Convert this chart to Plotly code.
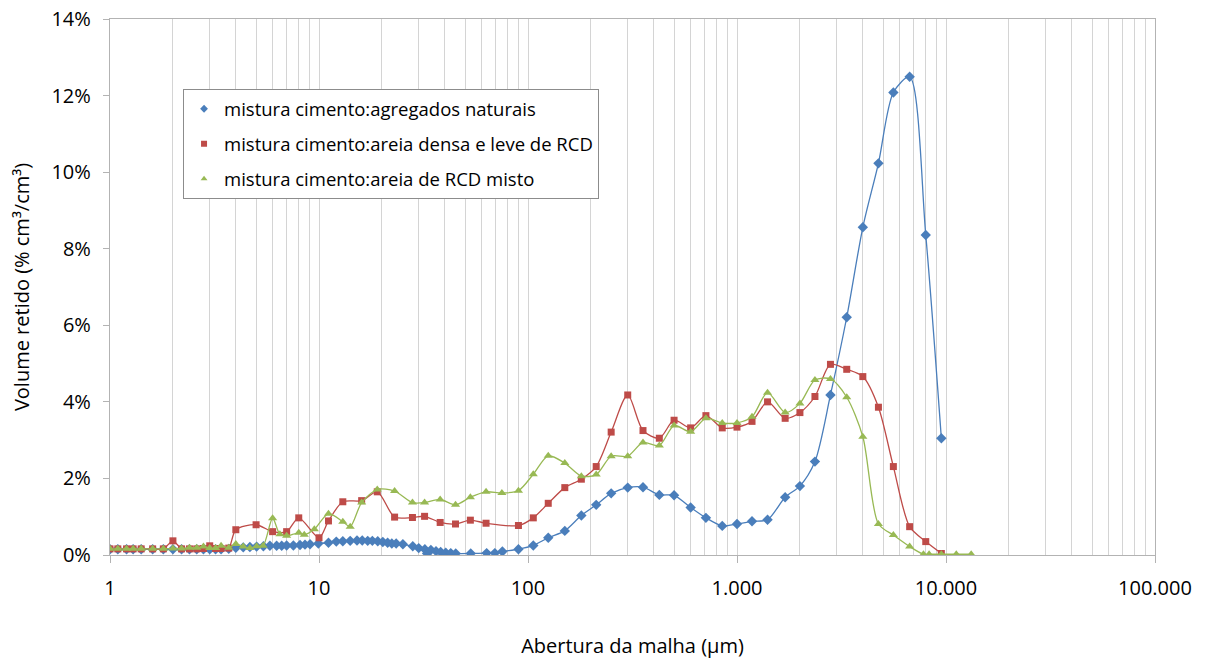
import plotly.graph_objects as go

# ---------------- data (µm, % cm3/cm3) ----------------
natural_x = [1, 1.09, 1.2, 1.29, 1.41, 1.6, 1.8, 2.0, 2.2, 2.4, 2.6, 2.8, 3.0, 3.2, 3.4, 3.7,
             4.0, 4.34, 4.67, 5.03, 5.42, 5.82, 6.27, 6.63, 7.0, 7.54, 8.11, 8.57, 9.06, 9.93,
             11.1, 12.1, 13.0, 14.1, 15.2, 16.1, 17.1, 18.0, 19.1, 20.2, 21.3, 22.3, 23.4, 25.2,
             28.1, 30.0, 32.1, 32.9, 34.3, 36.3, 38.2, 40.4, 42.7, 45.1, 53.2, 63.4, 69.4, 75.4,
             90, 106, 125, 150, 180, 212, 250, 300, 355, 425, 500, 600, 710, 850, 1000, 1180,
             1400, 1700, 2000, 2360, 2800, 3350, 4000, 4750, 5600, 6700, 8000, 9500]
natural_y = [0.15, 0.15, 0.15, 0.15, 0.15, 0.15, 0.15, 0.15, 0.15, 0.15, 0.15, 0.15, 0.15, 0.15, 0.15, 0.16,
             0.19, 0.20, 0.21, 0.22, 0.23, 0.24, 0.24, 0.24, 0.25, 0.25, 0.26, 0.27, 0.28, 0.30,
             0.32, 0.35, 0.36, 0.37, 0.38, 0.38, 0.37, 0.37, 0.36, 0.34, 0.32, 0.30, 0.30, 0.28,
             0.23, 0.18, 0.15, 0.04, 0.13, 0.10, 0.08, 0.06, 0.05, 0.04, 0.04, 0.05, 0.05, 0.09,
             0.15, 0.25, 0.45, 0.63, 1.03, 1.31, 1.61, 1.76, 1.77, 1.57, 1.56, 1.24, 0.97, 0.76, 0.81, 0.88,
             0.92, 1.51, 1.80, 2.44, 4.18, 6.21, 8.56, 10.23, 12.08, 12.49, 8.36, 3.05]

dense_x = [1, 1.09, 1.2, 1.29, 1.41, 1.6, 1.8, 2.0, 2.2, 2.4, 2.6, 2.8, 3.0, 3.2, 3.4, 3.7,
           4.0, 5.0, 6.0, 7.0, 8.0, 10.0, 11.1, 13.0, 16.0, 19.0, 23.0, 28.0, 32.0, 38.0, 45.0, 53.0, 63.0,
           90, 106, 125, 150, 180, 212, 250, 300, 355, 425, 500, 600, 710, 850, 1000, 1180,
           1400, 1700, 2000, 2360, 2800, 3350, 4000, 4750, 5600, 6700, 8000, 9500]
dense_y = [0.16, 0.16, 0.16, 0.16, 0.16, 0.16, 0.16, 0.37, 0.16, 0.16, 0.16, 0.17, 0.24, 0.17, 0.17, 0.18,
           0.66, 0.79, 0.61, 0.61, 0.97, 0.45, 0.89, 1.39, 1.42, 1.65, 0.99, 0.98, 1.01, 0.85, 0.81, 0.91, 0.83,
           0.77, 0.97, 1.35, 1.76, 1.98, 2.31, 3.21, 4.18, 3.25, 3.05, 3.52, 3.32, 3.64, 3.32, 3.34, 3.49,
           4.00, 3.57, 3.72, 4.14, 4.98, 4.85, 4.66, 3.86, 2.31, 0.74, 0.35, 0.04]

mixed_x = [1, 1.09, 1.2, 1.29, 1.41, 1.6, 1.8, 2.0, 2.2, 2.4, 2.6, 2.8, 3.0, 3.2, 3.4, 3.7,
           4.0, 4.34, 4.67, 5.03, 5.4, 6.0, 6.5, 7.0, 8.0, 8.5, 9.5, 11.1, 13.0, 14.1, 16.0, 19.0,
           23.0, 28.0, 32.0, 38.0, 45.0, 53.0, 63.0, 75.0, 90, 106, 125, 150, 180, 212, 250, 300,
           355, 425, 500, 600, 710, 850, 1000, 1180, 1400, 1700, 2000, 2360, 2800, 3350, 4000,
           4750, 5600, 6700, 7800, 8300, 9500, 11200, 13200]
mixed_y = [0.16, 0.16, 0.16, 0.16, 0.16, 0.16, 0.16, 0.17, 0.17, 0.19, 0.19, 0.22, 0.18, 0.18, 0.24, 0.19,
           0.29, 0.22, 0.18, 0.23, 0.24, 0.96, 0.54, 0.50, 0.58, 0.53, 0.67, 1.08, 0.87, 0.74, 1.37, 1.71,
           1.67, 1.37, 1.37, 1.45, 1.31, 1.51, 1.65, 1.62, 1.68, 2.11, 2.59, 2.40, 2.06, 2.10, 2.58, 2.58,
           2.94, 2.86, 3.38, 3.22, 3.57, 3.45, 3.45, 3.61, 4.24, 3.72, 3.96, 4.57, 4.60, 4.12, 3.09,
           0.81, 0.52, 0.22, 0.02, 0.02, 0.02, 0.02, 0.02]

series_names = ["mistura cimento:agregados naturais",
                "mistura cimento:areia densa e leve de RCD",
                "mistura cimento:areia de RCD misto"]

x_tickvals = [1, 10, 100, 1000, 10000, 100000]
x_ticktext = ["1", "10", "100", "1.000", "10.000", "100.000"]
y_tickvals = [0, 2, 4, 6, 8, 10, 12, 14]
y_ticktext = ["0%", "2%", "4%", "6%", "8%", "10%", "12%", "14%"]

# ---------------- styling ----------------
colors = ["#4A7EBB", "#BE4B48", "#98B954"]
symbols = ["diamond", "square", "triangle-up"]
sizes = [8, 7, 8]
FONT = "Open Sans"

fig = go.Figure()
for xs, ys, c, s, sz in zip([natural_x, dense_x, mixed_x], [natural_y, dense_y, mixed_y],
                            colors, symbols, sizes):
    fig.add_trace(go.Scatter(
        x=xs, y=ys, mode="lines+markers", showlegend=False,
        line=dict(color=c, width=1.3, shape="spline", smoothing=0.8),
        marker=dict(symbol=s, size=sz, color=c, line=dict(width=0)),
        hoverinfo="x+y"))

# legend entries (marker only, as in the original)
for name, c, s in zip(series_names, colors, symbols):
    fig.add_trace(go.Scatter(
        x=[None], y=[None], mode="markers", name=name, legendgroup=name,
        marker=dict(symbol=s, size=6, color=c, line=dict(width=0))))

grid_col = "#D4D4D4"
axis_col = "#B3B3B3"

fig.update_layout(
    width=1206, height=660,
    margin=dict(l=110, r=51, t=19, b=105, autoexpand=False),
    paper_bgcolor="white", plot_bgcolor="white",
    font=dict(family=FONT, size=19, color="#000000"),
    showlegend=True,
    legend=dict(
        x=0.0699, y=0.869, xanchor="left", yanchor="top",
        bgcolor="white", bordercolor="#8C8C8C", borderwidth=1,
        font=dict(family=FONT, size=18.5, color="#000000"),
        traceorder="grouped", tracegroupgap=8,
        itemclick=False,
    ),
    xaxis=dict(
        type="log", range=[0, 5],
        tickmode="array", tickvals=x_tickvals, ticktext=x_ticktext,
        ticks="outside", ticklen=7, tickcolor=axis_col, tickwidth=1,
        ticklabelstandoff=8,
        showline=True, linecolor=axis_col, linewidth=1.3, mirror=True,
        showgrid=True, gridcolor=grid_col, gridwidth=1.3,
        minor=dict(dtick="D1", showgrid=True, gridcolor=grid_col, gridwidth=1.3, ticks=""),
        zeroline=False,
        tickfont=dict(family=FONT, size=20),
        title=dict(text="Abertura da malha (µm)", standoff=38,
                   font=dict(family=FONT, size=20)),
    ),
    yaxis=dict(
        range=[0, 14],
        tickmode="array", tickvals=y_tickvals, ticktext=y_ticktext,
        ticks="outside", ticklen=6, tickcolor=axis_col, tickwidth=1,
        ticklabelstandoff=8,
        showline=True, linecolor=axis_col, linewidth=1.3, mirror=True,
        showgrid=False, zeroline=False,
        tickfont=dict(family=FONT, size=20),
        title=dict(text="Volume retido (% cm³/cm³)", standoff=16,
                   font=dict(family=FONT, size=20)),
    ),
)

fig.write_html("out.html")
